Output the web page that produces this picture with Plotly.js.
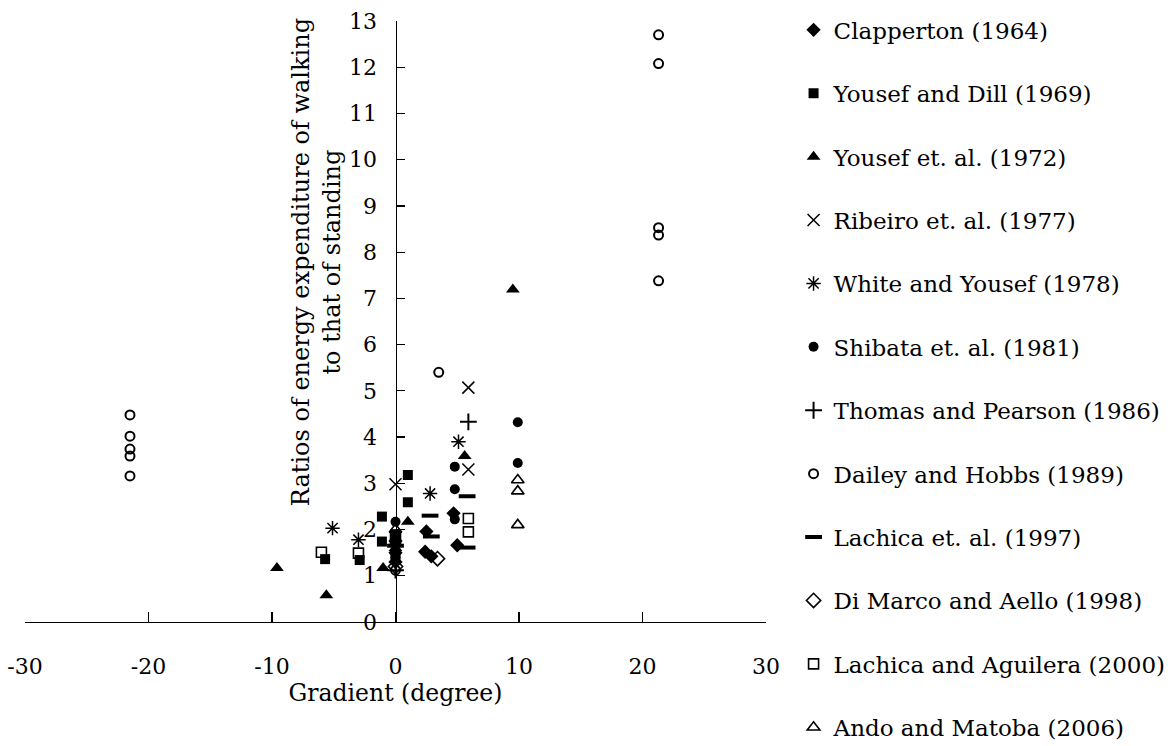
<!DOCTYPE html>
<html>
<head>
<meta charset="utf-8">
<script src="https://cdn.plot.ly/plotly-3.0.1.min.js"></script>
<style>
  html, body { margin: 0; padding: 0; background: #fff; }
  #chart { width: 1173px; height: 746px; }
</style>
</head>
<body>
<div id="chart"></div>
<script>
// Energy expenditure of walking relative to standing, by gradient (degree)
const studyNames = [
  'Clapperton (1964)',
  'Yousef and Dill (1969)',
  'Yousef et. al. (1972)',
  'Ribeiro et. al. (1977)',
  'White and Yousef (1978)',
  'Shibata et. al. (1981)',
  'Thomas and Pearson (1986)',
  'Dailey and Hobbs (1989)',
  'Lachica et. al. (1997)',
  'Di Marco and Aello (1998)',
  'Lachica and Aguilera (2000)',
  'Ando and Matoba (2006)'
];

const clappertonX = [0, 0, 0, 2.5, 2.4, 2.9, 4.7, 5.0];
const clappertonY = [1.75, 1.5, 1.3, 1.96, 1.52, 1.42, 2.35, 1.66];

const yousefDillX = [-5.7, -2.9, -1.1, -1.1, 1.0, 1.0, 0, 0];
const yousefDillY = [1.36, 1.34, 2.28, 1.74, 3.18, 2.59, 1.9, 1.45];

const yousef1972X = [-9.6, -5.6, -1.0, 1.0, 5.6, 9.5, 0];
const yousef1972Y = [1.17, 0.58, 1.17, 2.17, 3.59, 7.19, 1.6];

const ribeiroX = [0, 5.9, 5.9];
const ribeiroY = [2.98, 3.30, 5.07];

const whiteYousefX = [-5.1, -3.0, 2.8, 5.1];
const whiteYousefY = [2.03, 1.78, 2.78, 3.90];

const shibataX = [0, 4.8, 4.8, 4.8, 9.9, 9.9, 0];
const shibataY = [2.17, 3.36, 2.87, 2.22, 4.32, 3.44, 1.4];

const thomasX = [5.9, 0];
const thomasY = [4.33, 1.12];

const daileyX = [-21.5, -21.5, -21.5, -21.5, -21.5, 3.5, 21.3, 21.3, 21.3, 21.3, 21.3, 0];
const daileyY = [4.48, 4.02, 3.74, 3.59, 3.16, 5.40, 12.70, 12.08, 8.53, 8.37, 7.38, 1.12];

const lachica1997X = [2.8, 2.9, 5.8, 5.8, 0];
const lachica1997Y = [2.30, 1.85, 2.72, 1.61, 1.65];

const diMarcoX = [3.4, 0];
const diMarcoY = [1.37, 1.2];

const lachicaAguileraX = [-6.0, -3.0, 5.9, 5.9, 0];
const lachicaAguileraY = [1.51, 1.49, 2.24, 1.95, 1.8];

const andoX = [9.9, 9.9, 9.9, 0];
const andoY = [3.07, 2.83, 2.10, 2.0];

const xTickVals = [-30, -20, -10, 0, 10, 20, 30];
const xTickText = ['-30', '-20', '-10', '0', '10', '20', '30'];

const seriesX = [clappertonX, yousefDillX, yousef1972X, ribeiroX, whiteYousefX, shibataX,
                 thomasX, daileyX, lachica1997X, diMarcoX, lachicaAguileraX, andoX];
const seriesY = [clappertonY, yousefDillY, yousef1972Y, ribeiroY, whiteYousefY, shibataY,
                 thomasY, daileyY, lachica1997Y, diMarcoY, lachicaAguileraY, andoY];

// marker style per study
const markerStyles = [
  {symbol: 'diamond', size: 11, line: {width: 0}},
  {symbol: 'square', size: 10, line: {width: 0}},
  {symbol: 'triangle-up', size: 12, line: {width: 0}},
  {symbol: 'x-thin-open', size: 12, line: {width: 1.5, color: '#000'}},
  {symbol: 'asterisk-open', size: 12, line: {width: 1.5, color: '#000'}},
  {symbol: 'circle', size: 10, line: {width: 0}},
  {symbol: 'cross-thin-open', size: 12, line: {width: 2, color: '#000'}},
  {symbol: 'circle-open', size: 9, line: {width: 2, color: '#000'}},
  {symbol: 'line-ew-open', size: 12, line: {width: 4, color: '#000'}},
  {symbol: 'diamond-open', size: 11, line: {width: 1.6, color: '#000'}},
  {symbol: 'square-open', size: 10, line: {width: 1.6, color: '#000'}},
  {symbol: 'triangle-up-open', size: 11, line: {width: 1.6, color: '#000'}}
];

const traces = studyNames.map((name, i) => ({
  type: 'scatter',
  mode: 'markers',
  name: name,
  legendgroup: 'g' + i,
  x: seriesX[i],
  y: seriesY[i],
  marker: Object.assign({color: '#000'}, markerStyles[i]),
  cliponaxis: false
}));

const serif = 'DejaVu Serif, serif';

const layout = {
  width: 1173,
  height: 746,
  paper_bgcolor: '#fff',
  plot_bgcolor: '#fff',
  margin: {l: 25, r: 407, t: 21, b: 124, autoexpand: false},
  font: {family: serif, color: '#000', size: 22},
  showlegend: true,
  legend: {
    x: 1.0372, xanchor: 'left',
    y: 1.021, yanchor: 'top',
    traceorder: 'grouped',
    tracegroupgap: 30.5,
    maxheight: 1000,
    font: {family: serif, size: 23, color: '#000'},
    bgcolor: 'rgba(0,0,0,0)',
    borderwidth: 0
  },
  xaxis: {
    range: [-30, 30],
    tickvals: xTickVals,
    ticktext: xTickText,
    ticks: 'inside',
    ticklen: 10,
    tickwidth: 1.2,
    tickcolor: '#000',
    ticklabelstandoff: 24,
    showline: true,
    linecolor: '#000',
    linewidth: 1.3,
    showgrid: false,
    zeroline: false,
    tickfont: {family: serif, size: 22},
    title: {text: 'Gradient (degree)', font: {family: serif, size: 23.5}, standoff: 2}
  },
  yaxis: {
    range: [0, 13],
    dtick: 1,
    anchor: 'free',
    position: 0.5,
    side: 'left',
    ticks: 'inside',
    ticklen: 8,
    tickwidth: 1.2,
    tickcolor: '#000',
    ticklabelstandoff: 14,
    showline: true,
    linecolor: '#000',
    linewidth: 1.3,
    showgrid: false,
    zeroline: false,
    tickfont: {family: serif, size: 22}
  },
  annotations: [{
    text: 'Ratios of energy expenditure of walking<br>to that of standing',
    textangle: -90,
    xref: 'paper', yref: 'paper',
    x: 0.3935, y: 0.598,
    xanchor: 'center', yanchor: 'middle',
    showarrow: false,
    font: {family: serif, size: 24, color: '#000'}
  }]
};

Plotly.newPlot('chart', traces, layout, {displayModeBar: false, staticPlot: true});
</script>
</body>
</html>
